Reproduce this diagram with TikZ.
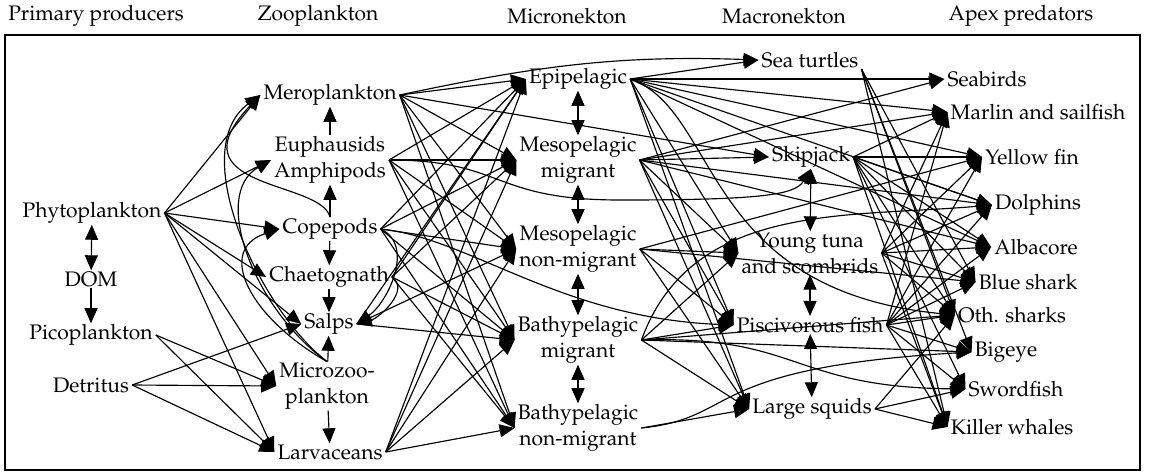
\documentclass[tikz,border=0pt]{standalone}
\usepackage[T1]{fontenc}
\usepackage{mathpazo}
\usetikzlibrary{arrows.meta}

\newcommand{\taxfont}{\fontsize{21}{26}\selectfont}

\begin{document}
\begin{tikzpicture}[
  x=1pt, y=-1pt,
  taxon/.style={align=center, inner xsep=3pt, inner ysep=1pt, font=\taxfont},
  header/.style={inner sep=0pt, font=\taxfont},
  feeds/.style={-{Triangle[length=15pt,width=13pt]}, line width=1.15pt},
  link/.style={{Triangle[length=15pt,width=13pt]}-{Triangle[length=15pt,width=13pt]}, line width=1.15pt}
]
\useasboundingbox (0,0) rectangle (1149,472);

% trophic levels
\node[header] (hPrim)  at (96,16)   {Primary producers};
\node[header] (hZoo)   at (318,16)  {Zooplankton};
\node[header] (hMicro) at (567,16)  {Micronekton};
\node[header] (hMacro) at (784,16)  {Macronekton};
\node[header] (hApex)  at (1021,16) {Apex predators};
\draw[line width=1.5pt] (5,35) rectangle (1140,470);

% primary producers
\node[taxon] (phyto)    at (92,213)  {Phytoplankton};
\node[taxon] (dom)      at (91,279)  {DOM};
\node[taxon] (pico)     at (91,335)  {Picoplankton};
\node[taxon] (detritus) at (91,385)  {Detritus};

% zooplankton
\node[taxon] (mero)  at (330,95)  {Meroplankton};
\node[taxon] (euph)  at (330,160) {Euphausids\\Amphipods};
\node[taxon] (cope)  at (330,229) {Copepods};
\node[taxon] (chaet) at (329,277) {Chaetognath};
\node[taxon] (salps) at (329,324) {Salps};
\node[taxon] (mzoo)  at (327,386) {Microzoo-\\plankton};
\node[taxon] (larv)  at (330,452) {Larvaceans};

% micronekton
\node[taxon] (epi)    at (578,79)  {Epipelagic};
\node[taxon] (mesoM)  at (578,160) {Mesopelagic\\migrant};
\node[taxon] (mesoN)  at (578,249) {Mesopelagic\\non-migrant};
\node[taxon] (bathyM) at (578,340) {Bathypelagic\\migrant};
\node[taxon] (bathyN) at (578,428) {Bathypelagic\\non-migrant};

% macronekton
\node[taxon] (turtles) at (810,60)  {Sea turtles};
\node[taxon] (skip)    at (811,157) {Skipjack};
\node[taxon] (young)   at (810,253) {Young tuna\\and scombrids};
\node[taxon] (pisc)    at (810,325) {Piscivorous fish};
\node[taxon] (squid)   at (812,409) {Large squids};

% apex predators
\node[taxon] (seabirds) at (987,79)   {Seabirds};
\node[taxon] (marlin)   at (1038,112) {Marlin and sailfish};
\node[taxon] (yellow)   at (1032,157) {Yellow fin};
\node[taxon] (dolph)    at (1038,205) {Dolphins};
\node[taxon] (alba)     at (1036,247) {Albacore};
\node[taxon] (blue)     at (1028,282) {Blue shark};
\node[taxon] (oth)      at (1012,315) {Oth. sharks};
\node[taxon] (bigeye)   at (1006,352) {Bigeye};
\node[taxon] (sword)    at (1016,389) {Swordfish};
\node[taxon] (killer)   at (1012,427) {Killer whales};

% links inside a level
\draw[link]  (phyto) -- (dom);
\draw[feeds] (dom) -- (pico);
\draw[feeds] (euph) -- (mero);
\draw[feeds] (cope) -- (euph);
\draw[feeds] (cope) -- (chaet);
\draw[feeds] (chaet) -- (salps);
\draw[feeds] (mzoo) -- (salps);
\draw[feeds] (mzoo) -- (larv);
\draw[link] (epi) -- (mesoM);
\draw[link] (mesoM) -- (mesoN);
\draw[link] (mesoN) -- (bathyM);
\draw[link] (bathyM) -- (bathyN);
\draw[link] (skip) -- (young);
\draw[link] (young) -- (pisc);
\draw[link] (pisc) -- (squid);

% producers -> zooplankton
\foreach \t in {mero,euph,cope,chaet,salps,mzoo,larv}
  \draw[feeds] (phyto.east) -- (\t.west);
\foreach \t in {mzoo,larv}
  \draw[feeds] (pico.east) -- (\t.west);
\foreach \t in {salps,mzoo,larv}
  \draw[feeds] (detritus.east) -- (\t.west);

% loops on the zooplankton side
\draw[feeds] (cope.north) .. controls (322,180) and (170,190) .. (mero.west);
\draw[feeds] (mzoo.north) .. controls (260,310) and (185,150) .. (mero.west);
\draw[feeds] (mzoo.north) .. controls (255,310) and (210,195) .. (euph.west);
\draw[feeds] (mzoo.north) .. controls (250,318) and (215,250) .. (cope.west);
\draw[feeds] (cope.east) to[out=-25,in=35] (salps.east);
\draw[feeds] (chaet.east) to[out=-35,in=15] (salps.east);

% zooplankton -> micronekton
\foreach \t in {epi,mesoM,mesoN,bathyM,bathyN}
  \draw[feeds] (mero.east) -- (\t.west);
\foreach \t in {epi,mesoM,mesoN,bathyM,bathyN}
  \draw[feeds] (euph.east) -- (\t.west);
\foreach \t in {epi,mesoM,mesoN,bathyM,bathyN}
  \draw[feeds] (cope.east) -- (\t.west);
\foreach \t in {epi,mesoM,bathyM,bathyN}
  \draw[feeds] (chaet.east) -- (\t.west);
\foreach \t in {epi,mesoN,bathyM}
  \draw[feeds] (salps.east) -- (\t.west);
\foreach \t in {epi,mesoM,mesoN,bathyM,bathyN}
  \draw[feeds] (larv.east) -- (\t.west);
\draw[feeds] (mero.east) -- (skip.west);
\draw[feeds] (mero.east) to[out=12,in=178] (turtles.west);
\draw[feeds] (euph.east) .. controls (505,160) and (490,200) .. (620,200)
  .. controls (760,200) and (795,195) .. (skip.south);
\draw[feeds] (cope.east) .. controls (470,238) and (560,318) .. (pisc.west);

% micronekton -> macronekton and apex
\foreach \t in {turtles,seabirds,marlin,yellow,dolph,alba,young,pisc,squid}
  \draw[feeds] (epi.east) -- (\t.west);
\foreach \t in {seabirds,skip,marlin,dolph,alba,young,pisc,squid}
  \draw[feeds] (mesoM.east) -- (\t.west);
\foreach \t in {young,pisc,squid,yellow,blue}
  \draw[feeds] (mesoN.east) -- (\t.west);
\foreach \t in {young,pisc,squid,bigeye,oth}
  \draw[feeds] (bathyM.east) -- (\t.west);
\draw[feeds] (bathyN.east) -- (squid.west);
\draw[feeds] (epi.east) .. controls (720,110) and (700,290) .. (oth.west);
\draw[feeds] (bathyM.east) to[out=70,in=185] (dolph.west);
\draw[feeds] (bathyM.east) .. controls (800,335) and (790,387) .. (sword.west);
\draw[feeds] (bathyN.east) .. controls (740,418) and (700,368) .. (bigeye.west);

% macronekton -> apex
\foreach \t in {blue,oth,bigeye,killer}
  \draw[feeds] (turtles.south east) -- (\t.west);
\foreach \t in {marlin,yellow,dolph,alba,blue,oth,sword,killer}
  \draw[feeds] (skip.east) -- (\t.west);
\foreach \t in {marlin,yellow,dolph,alba,blue,oth,killer}
  \draw[feeds] (young.east) -- (\t.west);
\foreach \t in {marlin,yellow,dolph,alba,blue,oth,bigeye,sword,killer}
  \draw[feeds] (pisc.east) -- (\t.west);
\foreach \t in {oth,sword,killer}
  \draw[feeds] (squid.east) -- (\t.west);

\end{tikzpicture}
\end{document}
